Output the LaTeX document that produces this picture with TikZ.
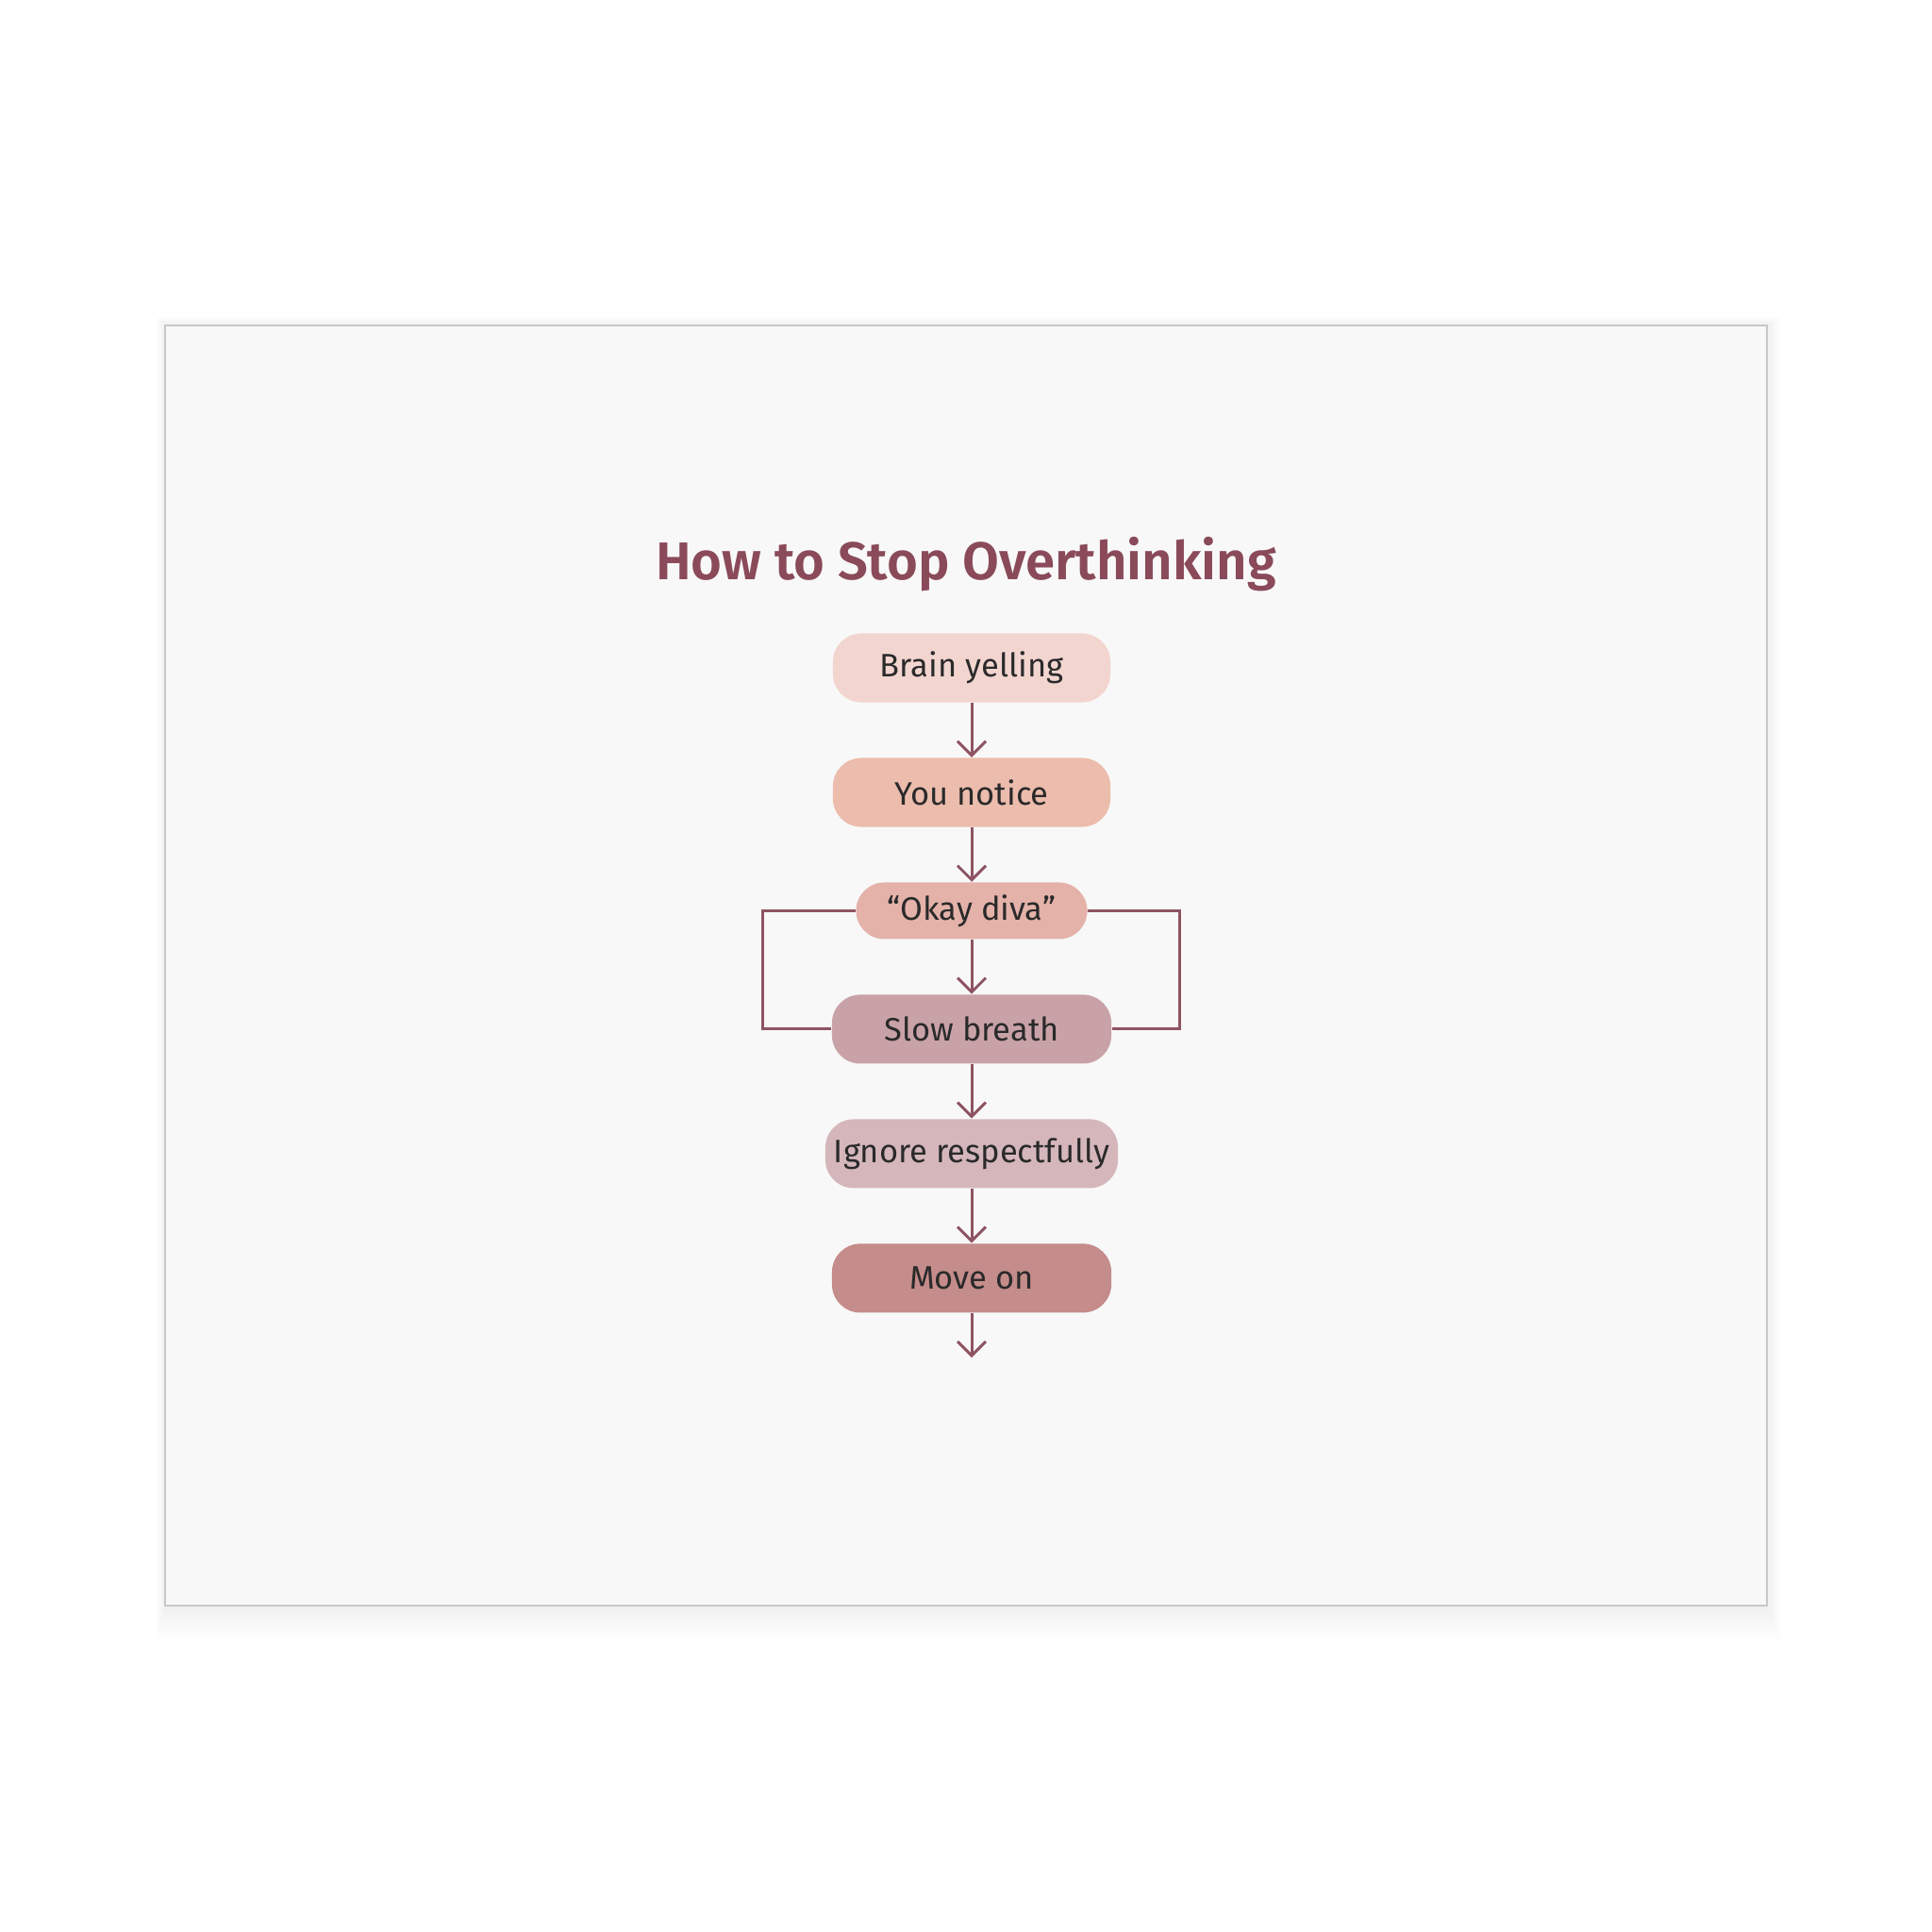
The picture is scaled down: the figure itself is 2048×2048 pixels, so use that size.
\documentclass[tikz,border=0pt]{standalone}
\usepackage{fontspec}
\setmainfont{Fira Sans}
\newfontfamily\titlefont{Fira Sans SemiBold}
\usetikzlibrary{positioning,arrows.meta}

\definecolor{canvasgray}{HTML}{F8F8F8}
\definecolor{edgegray}{HTML}{C8C8C8}
\definecolor{plum}{HTML}{8E5462}
\definecolor{titlerose}{HTML}{8A4A59}
\definecolor{textgray}{HTML}{2A2A2A}
\definecolor{yellpink}{HTML}{F3D5D0}
\definecolor{noticesalmon}{HTML}{ECBCAC}
\definecolor{divarose}{HTML}{E4B2A9}
\definecolor{breathmauve}{HTML}{C9A2A8}
\definecolor{ignorepink}{HTML}{D5B7BB}
\definecolor{moveonrose}{HTML}{C48C8A}

\tikzset{
  stepbox/.style={rounded corners=0.3cm, minimum height=0.73cm, minimum width=2.94cm,
    inner sep=0pt, text=textgray, font=\fontsize{9.8}{12}\selectfont},
  flow/.style={plum, line width=0.85pt, -{Straight Barb[length=1.5mm,width=3mm]}},
  loopline/.style={plum, line width=0.85pt},
}

\begin{document}
\begin{tikzpicture}[x=0.01cm,y=-0.01cm]
    \useasboundingbox (0,0) rectangle (2048,2048);
    \fill[white] (0,0) rectangle (2048,2048);
    % canvas with a soft shadow
    \foreach \s in {2,4,...,30}
      \fill[black,opacity=0.004] (175-\s*0.3,345-\s*0.3) rectangle (1873+\s*0.5,1702+\s*1.2);
    \fill[canvasgray] (175,345) rectangle (1873,1702);
    \draw[edgegray,line width=0.5pt] (175,345) rectangle (1873,1702);

    \node[anchor=base,text=titlerose,font=\titlefont\fontsize{16}{20}\selectfont] (title) at (1024,614) {How to Stop Overthinking};

    \node[stepbox, fill=yellpink] (yell) at (1030,708) {Brain yelling};
    \node[stepbox, fill=noticesalmon, below=0.575cm of yell] (notice) {You notice};
    \node[stepbox, fill=divarose, minimum width=2.45cm, minimum height=0.6cm, below=0.575cm of notice] (diva) {“Okay diva”};
    \node[stepbox, fill=breathmauve, minimum width=2.96cm, below=0.575cm of diva] (breath) {Slow breath};
    \node[stepbox, fill=ignorepink, minimum width=3.10cm, below=0.575cm of breath] (ignore) {Ignore respectfully};
    \node[stepbox, fill=moveonrose, minimum width=2.96cm, below=0.575cm of ignore] (move) {Move on};
    \coordinate[below=0.47cm of move] (out);

    \draw[flow] (yell) -- (notice);
    \draw[flow] (notice) -- (diva);
    \draw[flow] (diva) -- (breath);
    \draw[flow] (breath) -- (ignore);
    \draw[flow] (ignore) -- (move);
    \draw[flow] (move) -- (out);

    % the loop round the middle pair
    \draw[loopline] (diva.west) -- ++(-0.98cm,0) |- (breath.west);
    \draw[loopline] (diva.east) -- ++(0.97cm,0) |- (breath.east);
\end{tikzpicture}
\end{document}
